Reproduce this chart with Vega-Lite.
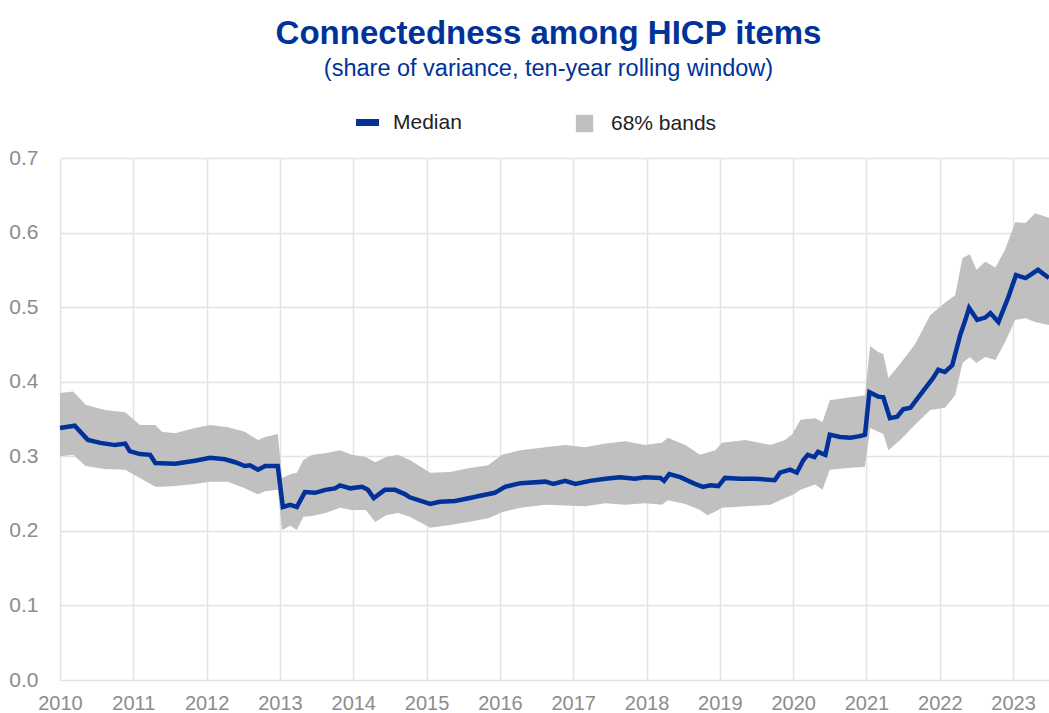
{
  "$schema": "https://vega.github.io/schema/vega-lite/v6.json",
  "autosize": {"type": "none"},
  "width": 989,
  "height": 522,
  "padding": {"left": 60, "top": 158, "right": 0, "bottom": 33},
  "background": "white",
  "config": {
    "font": "Liberation Sans",
    "view": {"stroke": null}
  },
  "title": {
    "text": "Connectedness among HICP items",
    "subtitle": "(share of variance, ten-year rolling window)",
    "anchor": "middle",
    "dx": -6,
    "fontSize": 33,
    "fontWeight": "bold",
    "color": "#003299",
    "subtitleFontSize": 23.5,
    "subtitleColor": "#003299",
    "subtitlePadding": 6,
    "offset": 27
  },
  "datasets": {
    "band": [
      {"t": 2010.00, "lo": 0.300, "hi": 0.385},
      {"t": 2010.18, "lo": 0.302, "hi": 0.387},
      {"t": 2010.35, "lo": 0.287, "hi": 0.369},
      {"t": 2010.61, "lo": 0.283, "hi": 0.362},
      {"t": 2010.89, "lo": 0.282, "hi": 0.359},
      {"t": 2011.09, "lo": 0.271, "hi": 0.342},
      {"t": 2011.30, "lo": 0.259, "hi": 0.342},
      {"t": 2011.39, "lo": 0.259, "hi": 0.333},
      {"t": 2011.57, "lo": 0.260, "hi": 0.331},
      {"t": 2011.84, "lo": 0.263, "hi": 0.338},
      {"t": 2012.05, "lo": 0.266, "hi": 0.342},
      {"t": 2012.29, "lo": 0.266, "hi": 0.339},
      {"t": 2012.52, "lo": 0.257, "hi": 0.333},
      {"t": 2012.70, "lo": 0.249, "hi": 0.322},
      {"t": 2012.80, "lo": 0.253, "hi": 0.326},
      {"t": 2012.97, "lo": 0.255, "hi": 0.330},
      {"t": 2013.03, "lo": 0.201, "hi": 0.271},
      {"t": 2013.14, "lo": 0.207, "hi": 0.276},
      {"t": 2013.23, "lo": 0.201, "hi": 0.278},
      {"t": 2013.32, "lo": 0.219, "hi": 0.295},
      {"t": 2013.44, "lo": 0.220, "hi": 0.302},
      {"t": 2013.62, "lo": 0.224, "hi": 0.304},
      {"t": 2013.82, "lo": 0.231, "hi": 0.308},
      {"t": 2013.98, "lo": 0.228, "hi": 0.302},
      {"t": 2014.17, "lo": 0.228, "hi": 0.299},
      {"t": 2014.30, "lo": 0.212, "hi": 0.292},
      {"t": 2014.45, "lo": 0.221, "hi": 0.299},
      {"t": 2014.61, "lo": 0.224, "hi": 0.302},
      {"t": 2014.77, "lo": 0.219, "hi": 0.295},
      {"t": 2015.05, "lo": 0.204, "hi": 0.278},
      {"t": 2015.32, "lo": 0.208, "hi": 0.279},
      {"t": 2015.57, "lo": 0.212, "hi": 0.284},
      {"t": 2015.84, "lo": 0.217, "hi": 0.288},
      {"t": 2016.03, "lo": 0.225, "hi": 0.302},
      {"t": 2016.28, "lo": 0.231, "hi": 0.308},
      {"t": 2016.62, "lo": 0.235, "hi": 0.312},
      {"t": 2016.89, "lo": 0.234, "hi": 0.315},
      {"t": 2017.16, "lo": 0.233, "hi": 0.312},
      {"t": 2017.44, "lo": 0.237, "hi": 0.317},
      {"t": 2017.71, "lo": 0.235, "hi": 0.320},
      {"t": 2017.98, "lo": 0.237, "hi": 0.315},
      {"t": 2018.21, "lo": 0.235, "hi": 0.318},
      {"t": 2018.29, "lo": 0.241, "hi": 0.325},
      {"t": 2018.53, "lo": 0.236, "hi": 0.315},
      {"t": 2018.73, "lo": 0.228, "hi": 0.302},
      {"t": 2018.83, "lo": 0.221, "hi": 0.305},
      {"t": 2018.94, "lo": 0.226, "hi": 0.308},
      {"t": 2019.03, "lo": 0.231, "hi": 0.318},
      {"t": 2019.35, "lo": 0.233, "hi": 0.322},
      {"t": 2019.69, "lo": 0.235, "hi": 0.315},
      {"t": 2019.89, "lo": 0.244, "hi": 0.322},
      {"t": 2019.99, "lo": 0.248, "hi": 0.330},
      {"t": 2020.10, "lo": 0.255, "hi": 0.349},
      {"t": 2020.30, "lo": 0.262, "hi": 0.351},
      {"t": 2020.40, "lo": 0.255, "hi": 0.346},
      {"t": 2020.50, "lo": 0.282, "hi": 0.375},
      {"t": 2020.71, "lo": 0.284, "hi": 0.378},
      {"t": 2020.98, "lo": 0.286, "hi": 0.382},
      {"t": 2021.05, "lo": 0.338, "hi": 0.448},
      {"t": 2021.16, "lo": 0.333, "hi": 0.440},
      {"t": 2021.23, "lo": 0.330, "hi": 0.437},
      {"t": 2021.30, "lo": 0.308, "hi": 0.405},
      {"t": 2021.46, "lo": 0.322, "hi": 0.424},
      {"t": 2021.66, "lo": 0.342, "hi": 0.450},
      {"t": 2021.87, "lo": 0.362, "hi": 0.489},
      {"t": 2022.07, "lo": 0.365, "hi": 0.506},
      {"t": 2022.21, "lo": 0.382, "hi": 0.516},
      {"t": 2022.31, "lo": 0.425, "hi": 0.566},
      {"t": 2022.41, "lo": 0.433, "hi": 0.571},
      {"t": 2022.50, "lo": 0.425, "hi": 0.550},
      {"t": 2022.62, "lo": 0.433, "hi": 0.561},
      {"t": 2022.76, "lo": 0.429, "hi": 0.553},
      {"t": 2022.89, "lo": 0.453, "hi": 0.577},
      {"t": 2023.03, "lo": 0.483, "hi": 0.614},
      {"t": 2023.17, "lo": 0.485, "hi": 0.613},
      {"t": 2023.30, "lo": 0.480, "hi": 0.626},
      {"t": 2023.49, "lo": 0.476, "hi": 0.620}
    ],
    "median": [
      {"t": 2010.00, "v": 0.338},
      {"t": 2010.20, "v": 0.341},
      {"t": 2010.38, "v": 0.322},
      {"t": 2010.55, "v": 0.318},
      {"t": 2010.75, "v": 0.315},
      {"t": 2010.89, "v": 0.317},
      {"t": 2010.95, "v": 0.307},
      {"t": 2011.09, "v": 0.303},
      {"t": 2011.23, "v": 0.302},
      {"t": 2011.30, "v": 0.291},
      {"t": 2011.57, "v": 0.290},
      {"t": 2011.84, "v": 0.294},
      {"t": 2012.05, "v": 0.298},
      {"t": 2012.25, "v": 0.296},
      {"t": 2012.39, "v": 0.292},
      {"t": 2012.52, "v": 0.287},
      {"t": 2012.59, "v": 0.288},
      {"t": 2012.70, "v": 0.282},
      {"t": 2012.80, "v": 0.287},
      {"t": 2012.97, "v": 0.287},
      {"t": 2013.04, "v": 0.232},
      {"t": 2013.14, "v": 0.235},
      {"t": 2013.23, "v": 0.232},
      {"t": 2013.34, "v": 0.252},
      {"t": 2013.48, "v": 0.251},
      {"t": 2013.62, "v": 0.255},
      {"t": 2013.75, "v": 0.257},
      {"t": 2013.82, "v": 0.261},
      {"t": 2013.96, "v": 0.257},
      {"t": 2014.12, "v": 0.259},
      {"t": 2014.20, "v": 0.255},
      {"t": 2014.28, "v": 0.244},
      {"t": 2014.43, "v": 0.255},
      {"t": 2014.57, "v": 0.255},
      {"t": 2014.71, "v": 0.249},
      {"t": 2014.77, "v": 0.245},
      {"t": 2015.05, "v": 0.236},
      {"t": 2015.18, "v": 0.239},
      {"t": 2015.39, "v": 0.240},
      {"t": 2015.59, "v": 0.244},
      {"t": 2015.73, "v": 0.247},
      {"t": 2015.93, "v": 0.251},
      {"t": 2016.07, "v": 0.259},
      {"t": 2016.28, "v": 0.264},
      {"t": 2016.62, "v": 0.266},
      {"t": 2016.73, "v": 0.263},
      {"t": 2016.89, "v": 0.267},
      {"t": 2017.03, "v": 0.263},
      {"t": 2017.23, "v": 0.267},
      {"t": 2017.44, "v": 0.270},
      {"t": 2017.64, "v": 0.272},
      {"t": 2017.84, "v": 0.270},
      {"t": 2017.98, "v": 0.272},
      {"t": 2018.19, "v": 0.271},
      {"t": 2018.24, "v": 0.267},
      {"t": 2018.31, "v": 0.276},
      {"t": 2018.46, "v": 0.272},
      {"t": 2018.66, "v": 0.263},
      {"t": 2018.77, "v": 0.259},
      {"t": 2018.87, "v": 0.261},
      {"t": 2018.98, "v": 0.260},
      {"t": 2019.07, "v": 0.271},
      {"t": 2019.28, "v": 0.270},
      {"t": 2019.48, "v": 0.270},
      {"t": 2019.75, "v": 0.268},
      {"t": 2019.82, "v": 0.278},
      {"t": 2019.96, "v": 0.282},
      {"t": 2020.05, "v": 0.278},
      {"t": 2020.14, "v": 0.295},
      {"t": 2020.20, "v": 0.302},
      {"t": 2020.29, "v": 0.299},
      {"t": 2020.34, "v": 0.306},
      {"t": 2020.44, "v": 0.302},
      {"t": 2020.50, "v": 0.329},
      {"t": 2020.64, "v": 0.326},
      {"t": 2020.78, "v": 0.325},
      {"t": 2020.91, "v": 0.327},
      {"t": 2020.98, "v": 0.329},
      {"t": 2021.04, "v": 0.386},
      {"t": 2021.16, "v": 0.380},
      {"t": 2021.23, "v": 0.379},
      {"t": 2021.32, "v": 0.351},
      {"t": 2021.42, "v": 0.353},
      {"t": 2021.50, "v": 0.363},
      {"t": 2021.60, "v": 0.365},
      {"t": 2021.73, "v": 0.382},
      {"t": 2021.91, "v": 0.405},
      {"t": 2021.98, "v": 0.416},
      {"t": 2022.07, "v": 0.413},
      {"t": 2022.17, "v": 0.422},
      {"t": 2022.28, "v": 0.463},
      {"t": 2022.35, "v": 0.483},
      {"t": 2022.40, "v": 0.499},
      {"t": 2022.51, "v": 0.483},
      {"t": 2022.62, "v": 0.486},
      {"t": 2022.69, "v": 0.492},
      {"t": 2022.80, "v": 0.480},
      {"t": 2022.93, "v": 0.512},
      {"t": 2023.04, "v": 0.543},
      {"t": 2023.17, "v": 0.539},
      {"t": 2023.34, "v": 0.550},
      {"t": 2023.49, "v": 0.539}
    ]
  },
  "encoding": {
    "x": {
      "field": "t",
      "type": "quantitative",
      "scale": {"domain": [2010, 2023.49], "nice": false, "zero": false},
      "axis": {
        "title": null,
        "values": [2010, 2011, 2012, 2013, 2014, 2015, 2016, 2017, 2018, 2019, 2020, 2021, 2022, 2023],
        "format": "d",
        "domain": false,
        "ticks": false,
        "grid": true,
        "gridColor": "#e3e3e3",
        "gridWidth": 1.5,
        "labelFontSize": 20,
        "labelColor": "#8c8c8c",
        "labelPadding": 13,
        "labelFlush": false
      }
    }
  },
  "layer": [
    {
      "data": {"name": "band"},
      "mark": {"type": "area", "opacity": 1},
      "encoding": {
        "y": {
          "field": "lo",
          "type": "quantitative",
          "scale": {"domain": [0, 0.7], "nice": false},
          "axis": {
            "title": null,
            "values": [0, 0.1, 0.2, 0.3, 0.4, 0.5, 0.6, 0.7],
            "format": ".1f",
            "domain": false,
            "ticks": false,
            "grid": true,
            "gridColor": "#e3e3e3",
            "gridWidth": 1.5,
            "labelFontSize": 21,
            "labelColor": "#8c8c8c",
            "labelPadding": 22
          }
        },
        "y2": {"field": "hi"},
        "fill": {
          "datum": "68% bands",
          "type": "nominal",
          "scale": {"domain": ["68% bands"], "range": ["#c0c0c0"]},
          "legend": {
            "title": null,
            "orient": "none",
            "legendX": 514,
            "legendY": -45,
            "symbolType": "square",
            "symbolSize": 300,
            "symbolStrokeWidth": 0,
            "symbolOpacity": 1,
            "labelFontSize": 21,
            "labelColor": "#222222",
            "labelOffset": 16
          }
        }
      }
    },
    {
      "data": {"name": "median"},
      "mark": {"type": "line", "strokeWidth": 4.5},
      "encoding": {
        "y": {"field": "v", "type": "quantitative"},
        "stroke": {
          "datum": "Median",
          "type": "nominal",
          "scale": {"domain": ["Median"], "range": ["#003299"]},
          "legend": {
            "title": null,
            "orient": "none",
            "legendX": 292,
            "legendY": -51,
            "symbolType": "stroke",
            "symbolSize": 530,
            "symbolStrokeWidth": 7,
            "labelFontSize": 21,
            "labelColor": "#222222",
            "labelOffset": 10
          }
        }
      }
    }
  ]
}
